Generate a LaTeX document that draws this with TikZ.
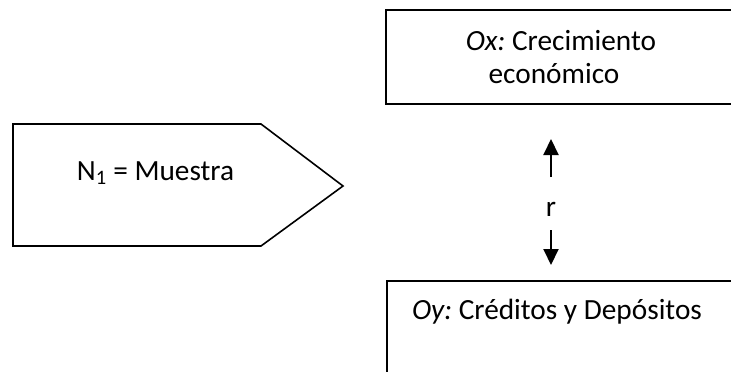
\documentclass[tikz,border=0pt]{standalone}
\usepackage{fontspec}
\setmainfont{Carlito}
\frenchspacing
\usetikzlibrary{arrows.meta}
\tikzset{
  boxline/.style={draw=black, line width=2pt},
  shapeline/.style={draw=black, line width=1.6pt, line join=miter},
  txt/.style={font=\fontsize{29.3pt}{33pt}\selectfont, inner sep=0pt, text=black},
  rel/.style={line width=2pt, -{Triangle[width=15pt,length=16pt]}}
}
\begin{document}
\begin{tikzpicture}[x=1pt,y=-1pt]
\useasboundingbox (0,0) rectangle (731,372);
\clip (0,0) rectangle (731,372);
% top box
\draw[boxline] (386,10) rectangle (745,104);
\node[txt, anchor=base] (ox) at (561,50) {\textit{Ox:} Crecimiento};
\node[txt, anchor=base] (ox2) at (554,83) {económico};
% bottom box
\draw[boxline] (387,281) rectangle (745,390);
\node[txt, anchor=base] (oy) at (557,319) {\textit{Oy:} Créditos y Depósitos};
% pentagon
\draw[shapeline] (13,124) -- (261,124) -- (343,186) -- (261,246) -- (13,246) -- cycle;
\node[txt, anchor=base] (n1) at (155.5,180) {N\textsubscript{1} = Muestra};
% relation
\node[txt, anchor=base] (r) at (551,216) {r};
\coordinate (upT) at (551,177);
\coordinate (upH) at (551,139);
\coordinate (dnT) at (551,230);
\coordinate (dnH) at (551,265);
\draw[rel] (upT) -- (upH);
\draw[rel] (dnT) -- (dnH);
\end{tikzpicture}
\end{document}
